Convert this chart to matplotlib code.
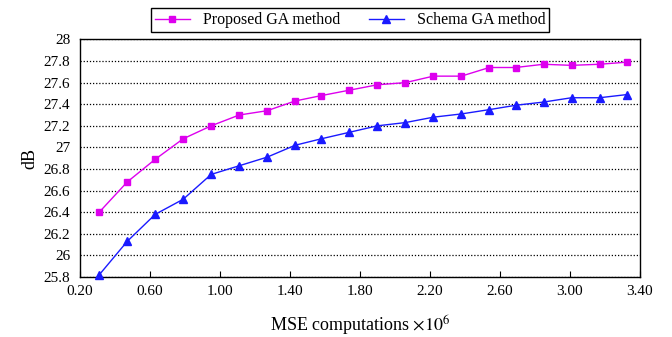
import matplotlib.pyplot as plt

plt.rcParams['font.family'] = ['Liberation Serif', 'DejaVu Serif']
plt.rcParams['mathtext.fontset'] = 'stix'

# MSE computations (x 10^6)
mse = [0.31, 0.47, 0.63, 0.79, 0.95, 1.11, 1.27, 1.43, 1.58, 1.74,
       1.90, 2.06, 2.22, 2.38, 2.54, 2.69, 2.85, 3.01, 3.17, 3.33]

proposed = [26.40, 26.68, 26.89, 27.08, 27.20, 27.30, 27.34, 27.43, 27.48, 27.53,
            27.58, 27.60, 27.66, 27.66, 27.74, 27.74, 27.77, 27.76, 27.77, 27.79]
schema = [25.82, 26.13, 26.38, 26.52, 26.75, 26.83, 26.91, 27.02, 27.08, 27.14,
          27.20, 27.23, 27.28, 27.31, 27.35, 27.39, 27.42, 27.46, 27.46, 27.49]

xticks = [0.20, 0.60, 1.00, 1.40, 1.80, 2.20, 2.60, 3.00, 3.40]
yticks = [25.8, 26, 26.2, 26.4, 26.6, 26.8, 27, 27.2, 27.4, 27.6, 27.8, 28]

fig = plt.figure(figsize=(6.72, 3.37), dpi=100)
ax = fig.add_axes([0.119, 0.178, 0.833, 0.705])

ax.plot(mse, proposed, color='#dd00ee', lw=1.0, marker='s', ms=5,
        label='Proposed GA method', clip_on=False, zorder=3)
ax.plot(mse, schema, color='#1a1aff', lw=1.0, marker='^', ms=6,
        label='Schema GA method', clip_on=False, zorder=3)

ax.set_xlim(0.2, 3.4)
ax.set_ylim(25.8, 28)
ax.set_xticks(xticks)
ax.set_xticklabels([f'{t:.2f}' for t in xticks])
ax.set_yticks(yticks)
ax.set_yticklabels([f'{t:g}' for t in yticks])
ax.tick_params(direction='in', labelsize=11, length=4)
ax.tick_params(axis='x', pad=6)
ax.tick_params(axis='y', length=0, pad=7)
ax.yaxis.grid(True, linestyle=(0, (1, 1.5)), color='black', lw=0.9)
for s in ['left', 'right', 'bottom', 'top']:
    ax.spines[s].set_linewidth(1.0)

ax.set_ylabel('dB', fontsize=13, labelpad=4)
ax.set_xlabel(r'MSE computations $\times 10^6$', fontsize=13, labelpad=11)

fig.legend(loc='center', bbox_to_anchor=(0.521, 0.94), ncol=2, fontsize=11.5,
           frameon=True, fancybox=False, edgecolor='black', framealpha=1,
           borderpad=0.25, handlelength=2.2, columnspacing=1.8)

fig.savefig('out.png', dpi=100)
